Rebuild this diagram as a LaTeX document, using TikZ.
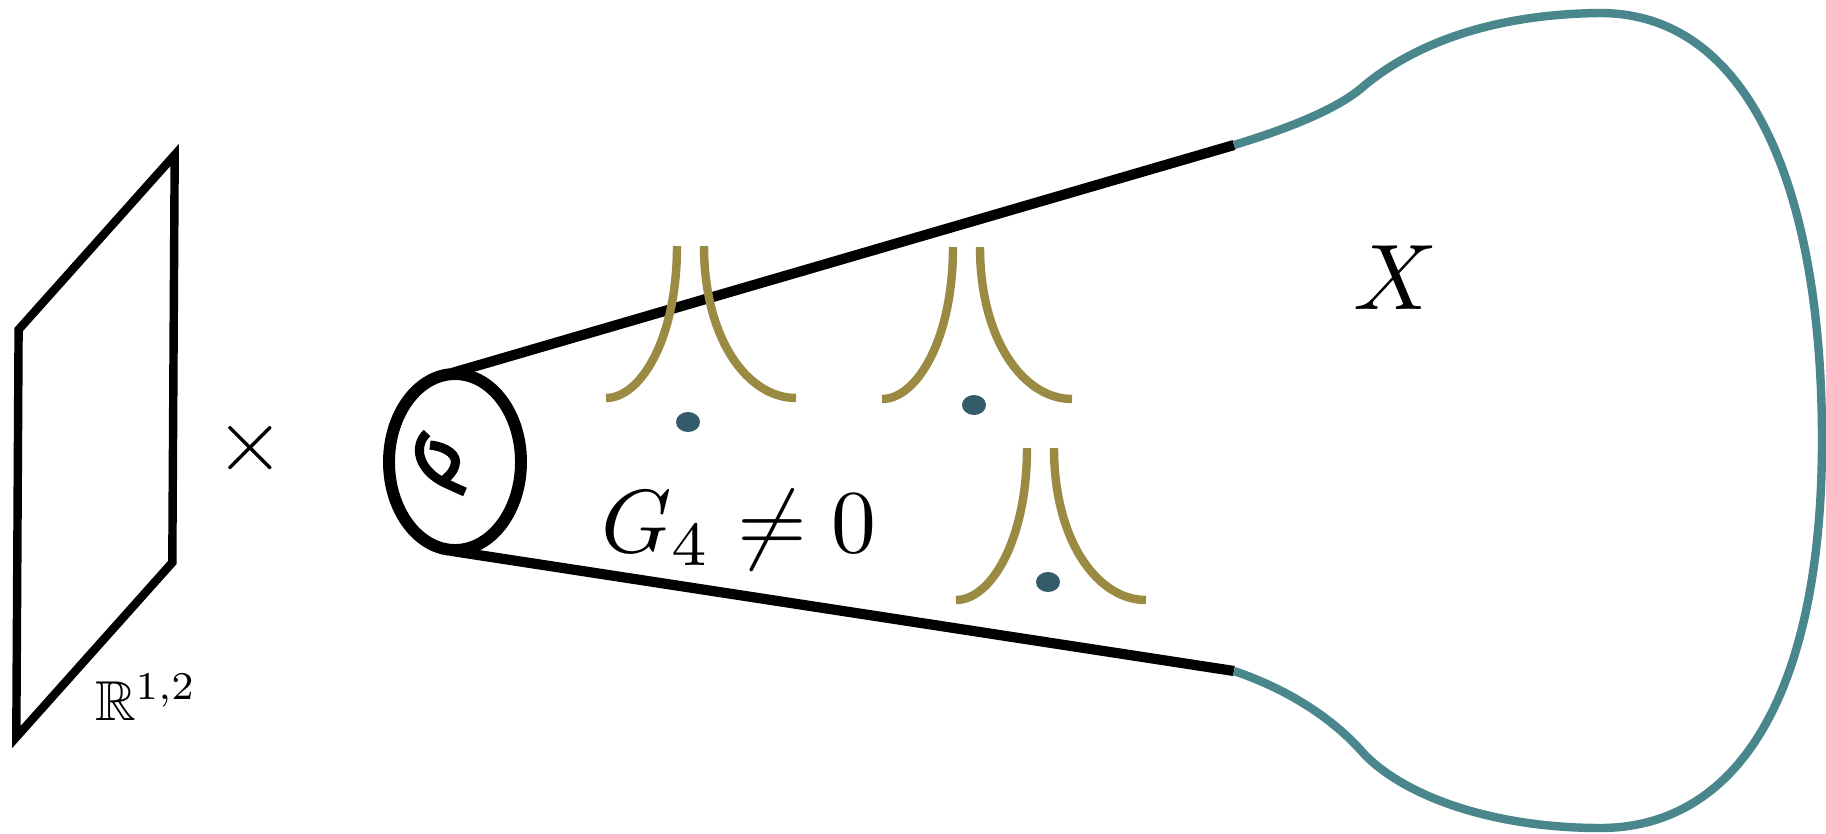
\documentclass[tikz,border=0pt]{standalone}
\usepackage{amsmath}
\usepackage{amssymb}
\usepackage{xcolor}
\usepackage{tikz}
\usetikzlibrary{shapes.geometric, positioning, calc}

\definecolor{cuspgold}{HTML}{9A8A42}
\definecolor{bulkteal}{HTML}{4A878D}
\definecolor{pointblue}{HTML}{335B69}

\begin{document}
\begin{tikzpicture}[
  x=0.02cm, y=-0.02cm,
  edge/.style={line width=5.8pt, black},
  cusp/.style={line width=4.8pt, cuspgold},
  pointdot/.style={fill=pointblue, draw=none},
  bigmath/.style={inner sep=0pt, scale=5.1},
]
  \useasboundingbox (0,0) rectangle (1826,833);

  % ── Minkowski factor ──
  \draw[line width=4.8pt, line join=miter] (18.6,329.6) -- (174.7,154.9) -- (172.3,562.5) -- (16.3,737.1) -- cycle;
  \node[inner sep=0pt, anchor=base west, scale=3.2] (mink) at (94,720) {$\mathbb{R}^{1,2}$};
  \node[bigmath] (times) at (250,448) {$\times$};

  % ── Fibre at the tip of the cone ──
  \coordinate (fibc) at (455,462);
  \coordinate (fibtop) at (452,373);
  \coordinate (fibbot) at (452,551);
  \draw[line width=6.8pt] (fibc) ellipse [x radius=66, y radius=88];
  \draw[line width=5.2pt] (427,433) .. controls (413,446) and (418,470) .. (445,483)
                                   .. controls (452,486) and (458,489) .. (465,492);
  \draw[line width=5.2pt] (430,445) .. controls (448,447) and (458,456) .. (455,465)
                                   .. controls (453,473) and (447,478) .. (441,482);

  % ── Cone ──
  \coordinate (topend) at (1234,145);
  \coordinate (botend) at (1234,671);
  \draw[edge] (fibtop) -- (topend);
  \draw[edge] (fibbot) -- (botend);

  % ── Bulk boundary ──
  \draw[line width=4.8pt, bulkteal] (topend)
    .. controls (1290,128) and (1340,108) .. (1365,85)
    .. controls (1420,40) and (1500,14) .. (1600,13)
    .. controls (1750,13) and (1822,190) .. (1822,440)
    .. controls (1822,690) and (1740,828) .. (1600,828)
    .. controls (1500,828) and (1410,800) .. (1365,755)
    .. controls (1335,720) and (1290,690) .. (botend);

  % ── Singular loci ──
  \foreach \lx/\ty/\dx/\dy in {677/246/688/422, 953/247/974/405, 1027/448/1048/582} {
    \draw[cusp] (\lx,\ty) .. controls (\lx,\ty+92) and (\lx-36,\ty+152) .. (\lx-71,\ty+152);
    \draw[cusp] (\lx+27,\ty) .. controls (\lx+27,\ty+92) and (\lx+70,\ty+152) .. (\lx+119,\ty+152);
    \fill[pointdot] (\dx,\dy) ellipse [x radius=12, y radius=10];
  }

  % ── Labels ──
  \node[bigmath, anchor=base] (flux) at (739,552) {$G_4\neq 0$};
  \node[inner sep=0pt, scale=5.3, anchor=base] (bulk) at (1396,309) {$X$};

\end{tikzpicture}
\end{document}
